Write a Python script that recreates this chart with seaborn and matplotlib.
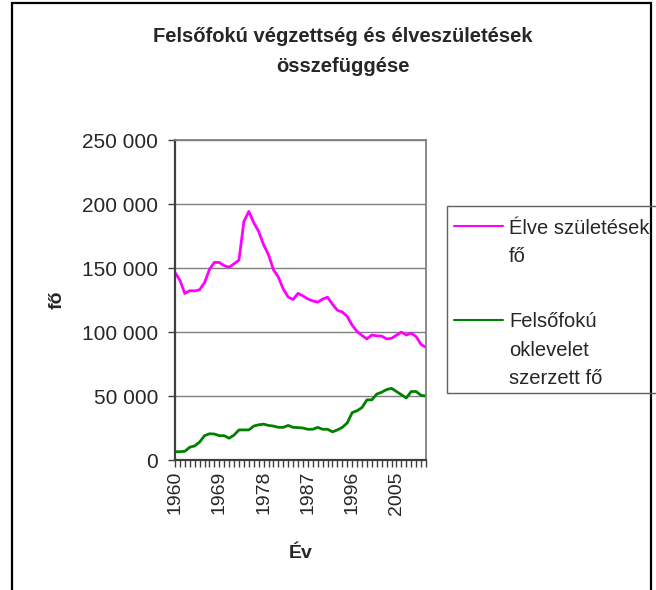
import matplotlib
matplotlib.use("Agg")
import matplotlib.pyplot as plt
from matplotlib.lines import Line2D
from matplotlib.patches import Rectangle
from matplotlib.ticker import FuncFormatter, MultipleLocator, FixedLocator
import seaborn as sns
import pandas as pd

# ---- data ----
years = list(range(1960, 2012))

births = [146500, 140400, 130100, 132300, 132100, 133000, 138500, 148900, 154400, 154300,
          151800, 150600, 153300, 156200, 186300, 194200, 185400, 178600, 168200, 160400,
          148700, 142900, 133600, 127300, 125400, 130200, 128200, 125800, 124300, 123300,
          125700, 127200, 121700, 117000, 115600, 112100, 105300, 100400, 97300, 94600,
          97600, 97000, 96800, 94600, 95100, 97500, 99900, 97600, 99100, 96400,
          90300, 88000]

graduates = [6500, 6500, 6800, 10000, 11000, 14000, 19000, 20500, 20300, 19000,
             19000, 17000, 19500, 23500, 23500, 23500, 26500, 27500, 28000, 27000,
             26500, 25500, 25500, 27000, 25500, 25300, 25000, 24000, 24000, 25500,
             24000, 24000, 22000, 23500, 25500, 29000, 37000, 38500, 41000, 47000,
             47000, 51500, 53000, 55000, 56000, 53500, 51000, 48500, 53500, 53500,
             50500, 50000]

series_names = ["Élve születések fő", "Felsőfokú oklevelet szerzett fő"]
legend_lines = [["Élve születések", "fő"], ["Felsőfokú", "oklevelet", "szerzett fő"]]
colors = ["#FF00FF", "#008000"]
label_years = [1960, 1969, 1978, 1987, 1996, 2005]

df = pd.DataFrame({
    "Év": years * 2,
    "fő": births + graduates,
    "sorozat": [series_names[0]] * len(years) + [series_names[1]] * len(years),
})

sns.set_style("white")
plt.rcParams["font.family"] = ["Liberation Sans", "DejaVu Sans"]

W, H = 656, 590
fig = plt.figure(figsize=(W / 100, H / 100), dpi=100)


def fx(px):
    return px / W


def fy(py):
    return 1 - py / H


ax = fig.add_axes([fx(175), fy(460), fx(426) - fx(175), fy(140) - fy(460)])

sns.lineplot(data=df, x="Év", y="fő", hue="sorozat", palette=colors,
             linewidth=2.0, ax=ax, legend=False)

ax.set_xlim(1960, 2011)
ax.set_ylim(0, 250000)
ax.yaxis.set_major_locator(MultipleLocator(50000))
ax.yaxis.set_major_formatter(FuncFormatter(lambda v, p: f"{int(v):,}".replace(",", " ")))
ax.xaxis.set_major_locator(FixedLocator(label_years))
ax.xaxis.set_minor_locator(MultipleLocator(1))
ax.set_xticklabels([str(y) for y in label_years], rotation=90)

ax.grid(axis="y", color="#7f7f7f", linewidth=1.0)
ax.set_axisbelow(True)
ax.tick_params(axis="both", which="both", direction="out", length=5, width=1,
               color="#404040", bottom=True, left=True)
ax.tick_params(axis="x", which="major", pad=3, labelsize=14)
ax.tick_params(axis="y", pad=7, labelsize=15)

for side in ["top", "right"]:
    ax.spines[side].set_color("#808080")
    ax.spines[side].set_linewidth(1.3)
for side in ["left", "bottom"]:
    ax.spines[side].set_color("#404040")
    ax.spines[side].set_linewidth(1.6)

ax.set_xlabel("Év", fontsize=14, fontweight="bold", labelpad=22)
ax.set_ylabel("fő", fontsize=14, fontweight="bold", labelpad=12)

fig.text(fx(343), fy(36), "Felsőfokú végzettség és élveszületések",
         ha="center", va="center", fontsize=14.5, fontweight="bold")
fig.text(fx(343), fy(67), "összefüggése",
         ha="center", va="center", fontsize=14.5, fontweight="bold")

# outer chart border
fig.add_artist(Rectangle((fx(12), fy(620)), fx(651) - fx(12), fy(3) - fy(620),
                         transform=fig.transFigure, fill=False,
                         edgecolor="black", linewidth=1.6))

# legend box (Excel style, handle beside the first line of each entry)
fig.add_artist(Rectangle((fx(447), fy(393)), fx(700) - fx(447), fy(206) - fy(393),
                         transform=fig.transFigure, fill=False,
                         edgecolor="#606060", linewidth=1.0))
entry_tops = [228, 322]
for lines, col, y0 in zip(legend_lines, colors, entry_tops):
    fig.add_artist(Line2D([fx(454), fx(503)], [fy(y0 - 2), fy(y0 - 2)],
                          transform=fig.transFigure, color=col, linewidth=1.5))
    for i, txt in enumerate(lines):
        fig.text(fx(509), fy(y0 + i * 28), txt, ha="left", va="center",
                 fontsize=14.5)

fig.savefig("out.png", dpi=100)
